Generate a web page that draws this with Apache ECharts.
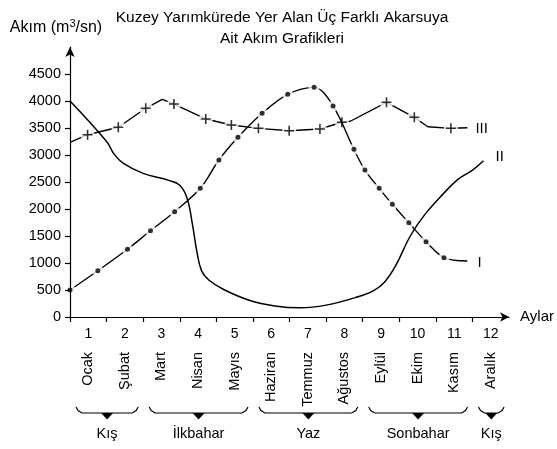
<!DOCTYPE html>
<html>
<head>
<meta charset="utf-8">
<script src="https://cdn.jsdelivr.net/npm/echarts@6/dist/echarts.min.js"></script>
<style>
html,body{margin:0;padding:0;background:#fff;}
#chart{width:557px;height:449px;}
</style>
</head>
<body>
<div id="chart"></div>
<script>
// ---- data (x in months from origin, y in m3/sn) ----
const monthNums = ['1','2','3','4','5','6','7','8','9','10','11','12'];
const monthNames = ['Ocak','Şubat','Mart','Nisan','Mayıs','Haziran','Temmuz','Ağustos','Eylül','Ekim','Kasım','Aralık'];
const yTicks = [0,500,1000,1500,2000,2500,3000,3500,4000,4500];
const xTicks = [0,1,2,3,4,5,6,7,8,9,10,11];

const iX = [0, 0.76, 1.57, 2.20, 2.86, 3.56, 4.07, 4.59, 5.25, 5.95, 6.67, 7.19, 7.76, 8.06, 8.45, 8.81, 9.26, 9.73, 10.22, 10.86];
const iY = [500, 857, 1254, 1598, 1950, 2383, 2907, 3327, 3772, 4124, 4253, 3907, 3105, 2722, 2383, 2087, 1746, 1395, 1099, 1037];
const iMarked = [1,1,1,1,1,1,1,1,1,1,1,1,1,1,1,1,1,1,1,0];

const iiX = [0, 1.0, 1.2, 1.45, 2.0, 2.7, 3.0, 3.2, 3.35, 3.47, 3.6, 3.8, 4.2, 4.9, 5.6, 6.3, 7.0, 7.8, 8.3, 8.6, 8.9, 9.3, 9.7, 10.2, 10.6, 11.0, 11.3];
const iiY = [4000, 3250, 3020, 2850, 2660, 2530, 2440, 2200, 1700, 1200, 850, 680, 510, 310, 205, 170, 220, 360, 490, 650, 950, 1500, 1900, 2280, 2550, 2720, 2894];

const iiiX = [0, 0.48, 1.32, 2.07, 2.52, 2.84, 3.71, 4.41, 5.15, 5.99, 6.83, 7.43, 7.66, 8.65, 9.41, 9.78, 10.41, 10.86];
const iiiY = [3235, 3376, 3513, 3865, 4031, 3944, 3667, 3556, 3494, 3450, 3481, 3606, 3625, 3976, 3698, 3524, 3494, 3505];
const iiiMarked = [0,1,1,1,0,1,1,1,1,1,1,1,0,1,1,0,1,0];

const seasonNames = ['Kış','İlkbahar','Yaz','Sonbahar','Kış'];
const seasonStart = [0, 2, 5, 8, 11];
const seasonEnd = [2, 5, 8, 11, 12];

// ---- build ----
const FONT = '"Liberation Sans", Arial, Helvetica, sans-serif';
const INK = '#000';
const pairs = (xs, ys) => xs.map((x, i) => [x, ys[i]]);
const marked = (xs, ys, m) => xs.map((x, i) => [x, ys[i]]).filter((_, i) => m[i]);
const PLUS = 'path://M4.2,0H5.8V4.2H10V5.8H5.8V10H4.2V5.8H0V4.2H4.2Z';

const chart = echarts.init(document.getElementById('chart'), null, {renderer: 'canvas'});

const endLabel = (dist, dy) => ({
  show: true, formatter: '{a}', distance: dist, offset: [0, dy],
  color: INK, fontSize: 15, fontFamily: FONT
});

const option = {
  animation: false,
  backgroundColor: '#fff',
  textStyle: {fontFamily: FONT, color: INK},
  title: {
    text: 'Kuzey Yarımkürede Yer Alan Üç Farklı Akarsuya\nAit Akım Grafikleri',
    left: 277, top: 2, textAlign: 'center',
    textStyle: {fontSize: 15.5, fontWeight: 'normal', color: INK, fontFamily: FONT, lineHeight: 21}
  },
  grid: {left: 70, right: 43, top: 47, bottom: 132, containLabel: false},
  xAxis: [
    {
      type: 'value', min: 0, max: 12, interval: 1, z: 20,
      name: 'Aylar', nameLocation: 'end', nameGap: 11,
      nameTextStyle: {fontSize: 15, color: INK, fontFamily: FONT, align: 'left'},
      axisLine: {show: true, lineStyle: {color: INK, width: 1.2}, symbol: ['none', 'arrow'], symbolSize: [7, 9]},
      axisTick: {show: true, length: 5, lineStyle: {color: INK, width: 1.2}, customValues: xTicks},
      axisLabel: {show: false},
      splitLine: {show: false}
    },
    {
      type: 'category', data: monthNums, position: 'bottom', boundaryGap: true,
      axisLine: {show: false}, axisTick: {show: false}, splitLine: {show: false},
      axisLabel: {interval: 0, margin: 10, fontSize: 14, color: INK, fontFamily: FONT}
    },
    {
      type: 'category', data: monthNames, position: 'bottom', boundaryGap: true,
      axisLine: {show: false}, axisTick: {show: false}, splitLine: {show: false},
      axisLabel: {interval: 0, margin: 35, rotate: 90, fontSize: 14.5, color: INK, fontFamily: FONT}
    }
  ],
  yAxis: {
    type: 'value', min: 0, max: 5000, interval: 500, z: 20,
    name: 'Akım (m{sup|3}/sn)', nameLocation: 'end', nameGap: 10,
    nameTextStyle: {
      fontSize: 16, color: INK, fontFamily: FONT, align: 'center', padding: [0, 28, 0, 0],
      rich: {sup: {fontSize: 11, verticalAlign: 'top', color: INK, fontFamily: FONT, padding: [0, 0, 8, 0]}}
    },
    axisLine: {show: true, lineStyle: {color: INK, width: 1.2}, symbol: ['none', 'arrow'], symbolSize: [7, 10]},
    axisTick: {show: true, length: 5, lineStyle: {color: INK, width: 1.2}, customValues: yTicks},
    axisLabel: {margin: 9, fontSize: 14.5, color: INK, fontFamily: FONT, customValues: yTicks, formatter: v => String(v)},
    splitLine: {show: false}
  },
  series: [
    // III
    {
      name: 'III', type: 'line', z: 2, data: pairs(iiiX, iiiY), showSymbol: false, smooth: false,
      lineStyle: {color: INK, width: 1.4}, endLabel: endLabel(8, 1)
    },
    {
      type: 'scatter', z: 3, data: marked(iiiX, iiiY, iiiMarked), symbol: 'circle', symbolSize: 14,
      itemStyle: {color: '#fff'}, silent: true
    },
    {
      type: 'scatter', z: 4, data: marked(iiiX, iiiY, iiiMarked), symbol: PLUS, symbolSize: 10,
      itemStyle: {color: INK}, silent: true
    },
    // I
    {
      name: 'I', type: 'line', z: 5, data: pairs(iX, iY), showSymbol: false, smooth: 0.35,
      lineStyle: {color: INK, width: 1.4}, endLabel: endLabel(10, 2)
    },
    {
      type: 'scatter', z: 6, data: marked(iX, iY, iMarked), symbol: 'circle', symbolSize: 11,
      itemStyle: {color: '#fff'}, silent: true
    },
    {
      type: 'scatter', z: 7, data: marked(iX, iY, iMarked), symbol: 'circle', symbolSize: 5,
      itemStyle: {color: INK}, silent: true
    },
    // II
    {
      name: 'II', type: 'line', z: 8, data: pairs(iiX, iiY), showSymbol: false, smooth: 0.4,
      lineStyle: {color: INK, width: 1.5}, endLabel: endLabel(12, -4)
    }
  ]
};
chart.setOption(option);

// season braces under month names
const px = v => chart.convertToPixel({xAxisIndex: 0}, v);
const graphics = [];
seasonNames.forEach((name, i) => {
  const x0 = px(seasonStart[i]) + 6;
  const x1 = px(seasonEnd[i]) - 5;
  const c = (x0 + x1) / 2;
  const yTop = 407, yBar = 413;
  graphics.push({
    type: 'polyline', silent: true,
    shape: {points: [[x0, yTop], [x0 + 2, yTop + 3.5], [x0 + 6, yBar], [x1 - 6, yBar], [x1 - 2, yTop + 3.5], [x1, yTop]]},
    style: {stroke: INK, lineWidth: 1.2, fill: null}
  });
  graphics.push({
    type: 'polygon', silent: true,
    shape: {points: [[c - 6, yBar], [c + 6, yBar], [c, yBar + 6.5]]},
    style: {fill: INK}
  });
  graphics.push({
    type: 'text', silent: true, x: c, y: 434,
    style: {text: name, fill: INK, font: '14.5px ' + FONT, textAlign: 'center', textVerticalAlign: 'middle'}
  });
});
chart.setOption({graphic: graphics});
</script>
</body>
</html>
